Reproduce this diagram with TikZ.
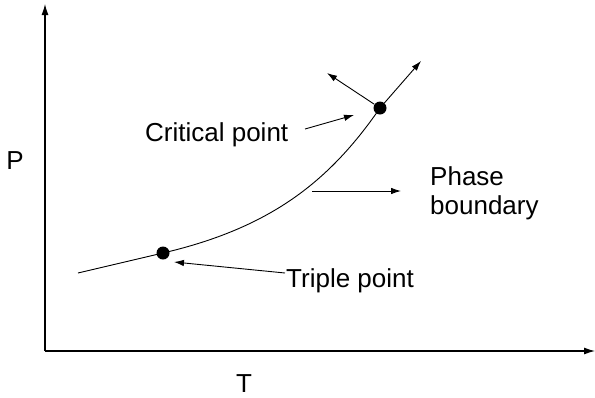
\documentclass[tikz,border=0pt]{standalone}
\usepackage{fontspec}
\setmainfont{Liberation Sans}
\usetikzlibrary{arrows.meta}
\begin{document}
\begin{tikzpicture}[x=1pt,y=-1pt,
  axis/.style={line width=1.1pt,-{Latex[length=11pt,width=7pt]}},
  curve/.style={line width=0.9pt},
  pointer/.style={line width=0.9pt,-{Latex[length=10pt,width=6.5pt]}},
  lbl/.style={font=\fontsize{26}{30}\selectfont,inner sep=0pt},
  dot/.style={circle,fill=black,inner sep=0pt,minimum size=13pt}]
\useasboundingbox (0,0) rectangle (595,397);
% axes
\coordinate (O) at (45,351);
\coordinate (ytip) at (45,4);
\coordinate (xtip) at (595,351);
\draw[axis] (O) -- (ytip);
\draw[axis] (O) -- (xtip);
% curve
\coordinate (c0) at (78,273);
\node[dot] (tp) at (163,253) {};
\node[dot] (cp) at (380,108) {};
\draw[curve] (c0) -- (tp.center) .. controls (270,228) and (329,182) .. (cp.center);
\coordinate (up) at (421,61);
\coordinate (ul) at (327,73);
\draw[pointer] (cp) -- (up);
\draw[pointer] (cp) -- (ul);
% labels
\node[lbl,anchor=base] (P) at (15,169) {P};
\node[lbl,anchor=base] (T) at (244,392) {T};
\node[lbl,anchor=base west] (crit) at (145,141) {Critical point};
\node[lbl,anchor=base west] (trip) at (286,287) {Triple point};
\node[lbl,anchor=base west] (phase) at (430,185) {Phase};
\node[lbl,anchor=base west] (bound) at (430,214) {boundary};
\coordinate (cpa0) at (305,129);
\coordinate (cpa1) at (354,115);
\draw[pointer] (cpa0) -- (cpa1);
\coordinate (tpa0) at (285,273);
\coordinate (tpa1) at (174,262);
\draw[pointer] (tpa0) -- (tpa1);
\coordinate (pba0) at (312,191);
\coordinate (pba1) at (401,191);
\draw[pointer] (pba0) -- (pba1);
\end{tikzpicture}
\end{document}
